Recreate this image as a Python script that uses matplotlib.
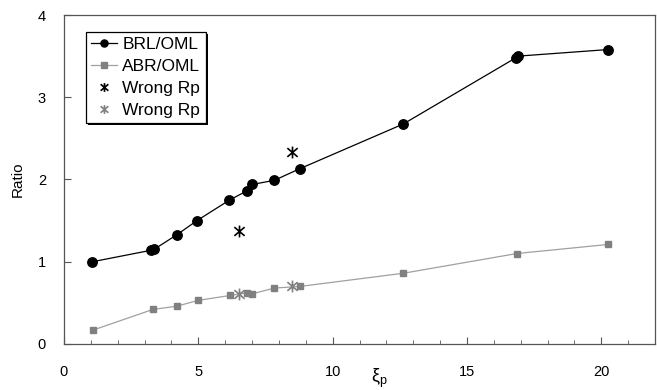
import matplotlib
matplotlib.use("Agg")
import matplotlib.pyplot as plt
from matplotlib.ticker import MultipleLocator
from matplotlib.path import Path
import matplotlib.patheffects as pe

plt.rcParams['font.family'] = ['Liberation Sans', 'DejaVu Sans']

# BRL/OML ratio versus xi_p
brl_x = [1.06, 3.25, 3.35, 4.21, 4.95, 6.16, 6.80, 7.01, 7.83, 8.77, 12.63, 16.82, 16.90, 20.25]
brl_y = [1.00, 1.14, 1.15, 1.33, 1.50, 1.75, 1.86, 1.94, 1.99, 2.13, 2.675, 3.48, 3.50, 3.58]

# ABR/OML ratio versus xi_p
abr_x = [1.09, 3.31, 4.21, 4.99, 6.19, 6.80, 7.01, 7.83, 8.79, 12.63, 16.86, 20.25]
abr_y = [0.17, 0.42, 0.46, 0.53, 0.59, 0.62, 0.61, 0.68, 0.70, 0.86, 1.10, 1.21]

# Points computed with the wrong Rp
wrong_brl_x = [6.51, 8.49]
wrong_brl_y = [1.37, 2.33]
wrong_abr_x = [6.52, 8.49]
wrong_abr_y = [0.61, 0.70]

# star marker: an X crossed by a vertical bar
star = Path([(-1, -0.85), (1, 0.85), (-1, 0.85), (1, -0.85), (0, -1.15), (0, 1.15)],
            [Path.MOVETO, Path.LINETO, Path.MOVETO, Path.LINETO,
             Path.MOVETO, Path.LINETO])

fig = plt.figure(figsize=(6.57, 3.90), dpi=100)
ax = fig.add_axes([0.0974, 0.118, 0.8996, 0.8435])

grey = '#808080'
ax.plot(brl_x, brl_y, '-', color='black', lw=0.9, marker='o', ms=6.8,
        mfc='black', mec='black', label='BRL/OML', zorder=3)
ax.plot(abr_x, abr_y, '-', color='#a0a0a0', lw=0.9, marker='s', ms=5,
        mfc=grey, mec=grey, label='ABR/OML', zorder=3)
ax.plot(wrong_brl_x, wrong_brl_y, ls='none', marker=star, ms=8.5,
        mec='black', mew=1.2, label='Wrong Rp', zorder=4)
ax.plot(wrong_abr_x, wrong_abr_y, ls='none', marker=star, ms=8.5,
        mec=grey, mew=1.2, label='Wrong Rp', zorder=4)

ax.set_xlim(0, 22)
ax.set_ylim(0, 4)
ax.xaxis.set_major_locator(MultipleLocator(5))
ax.xaxis.set_minor_locator(MultipleLocator(1))
ax.yaxis.set_major_locator(MultipleLocator(1))
ax.tick_params(axis='both', which='major', direction='in', length=5,
               width=0.8, labelsize=10.5, color='#555555')
ax.tick_params(axis='x', which='minor', direction='in', length=3,
               width=0.6, color='#555555')
ax.tick_params(axis='x', pad=15)
ax.tick_params(axis='y', pad=13)
for s in ax.spines.values():
    s.set_color('#555555')
    s.set_linewidth(0.9)

ax.set_xlabel('ξ$_{\\mathregular{p}}$', fontsize=13)
ax.xaxis.set_label_coords(0.533, -0.07)
ax.set_ylabel('Ratio', fontsize=11)
ax.yaxis.set_label_coords(-0.066, 0.5)

leg = ax.legend(loc='upper left', bbox_to_anchor=(0.037, 0.948), fontsize=12.5,
                frameon=True, fancybox=False, shadow=False, handlelength=1.5,
                handletextpad=0.3, borderpad=0.3, labelspacing=0.38,
                borderaxespad=0, markerscale=0.75)
frame = leg.get_frame()
frame.set_edgecolor('black')
frame.set_linewidth(0.9)
frame.set_alpha(1)
frame.set_path_effects([pe.SimplePatchShadow(offset=(1.6, -1.6),
                                             shadow_rgbFace='black', alpha=1),
                        pe.Normal()])

fig.savefig('out.png', dpi=100)
